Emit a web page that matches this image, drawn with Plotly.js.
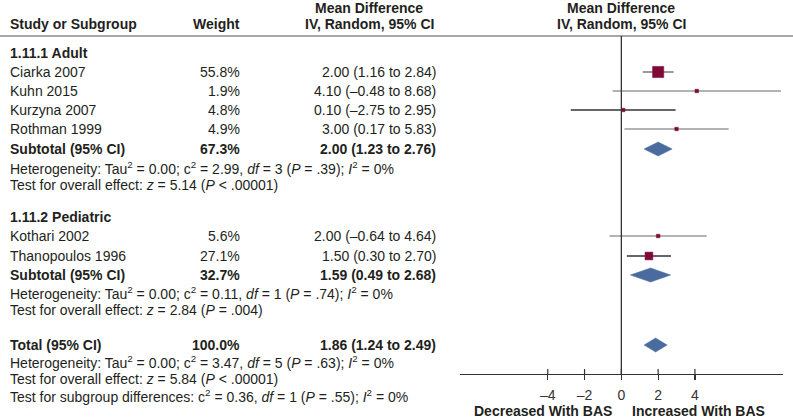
<!DOCTYPE html>
<html>
<head>
<meta charset="utf-8">
<script src="https://cdn.plot.ly/plotly-3.0.1.min.js"></script>
<style>html,body{margin:0;padding:0;background:#fff;}#chart{width:793px;height:418px;}</style>
</head>
<body>
<div id="chart"></div>
<script>
// ---------- DATA ----------
const groups = ['1.11.1 Adult', '1.11.2 Pediatric'];
const studies = ['Ciarka 2007', 'Kuhn 2015', 'Kurzyna 2007', 'Rothman 1999', 'Kothari 2002', 'Thanopoulos 1996'];
const studyGroup = [0, 0, 0, 0, 1, 1];
const weights = [55.8, 1.9, 4.8, 4.9, 5.6, 27.1];
const md = [2.00, 4.10, 0.10, 3.00, 2.00, 1.50];
const lo = [1.16, -0.48, -2.75, 0.17, -0.64, 0.30];
const hi = [2.84, 8.68, 2.95, 5.83, 4.64, 2.70];

const subWeights = [67.3, 32.7];
const subMd = [2.00, 1.59];
const subLo = [1.23, 0.49];
const subHi = [2.76, 2.68];

const totalWeight = [100.0];
const totalMd = [1.86];
const totalLo = [1.24];
const totalHi = [2.49];

// heterogeneity: [group1, group2, total]
const hetTau2 = ['0.00', '0.00', '0.00'];
const hetChi2 = ['2.99', '0.11', '3.47'];
const hetDf = [3, 1, 5];
const hetP = ['= .39', '= .74', '= .63'];
const hetI2 = ['0%', '0%', '0%'];
const effZ = ['5.14', '2.84', '5.84'];
const effP = ['< .00001', '= .004', '< .00001'];
const subDiffChi2 = ['0.36'];
const subDiffDf = [1];
const subDiffP = ['= .55'];
const subDiffI2 = ['0%'];

const tickVals = [-4, -2, 0, 2, 4];
const tickLabels = ['\u20134', '\u20132', '0', '2', '4'];
const dirLabels = ['Decreased With BAS', 'Increased With BAS'];

// ---------- LAYOUT / STYLE ----------
const W = 793, H = 418, AXIS_Y = 374;
const X_LEFT = 460, X_RIGHT = 782.7;
const XRANGE = [-8.77, 8.77];
const Y = {
  head1: 8, head2: 24, rule: 36,
  group: [53, 217],
  study: [72, 91, 110, 129, 236, 256],
  sub: [149, 275],
  het: [168, 293], test: [185, 310],
  total: 345, totHet: 362, totTest: 379, subDiff: 396, dir: 411
};
const COL = { name: 10, weight: 240, ci: 436, mid: 369 };
const ciColors = ['#7a7a7a', '#9a9a9a', '#333333', '#9a9a9a', '#9a9a9a', '#333333'];
const TXT = '#231f20', SQ = '#7f0a38', DIA = '#4a6b9d';
const FONT = 'Liberation Sans, Arial, Helvetica, sans-serif';
const FS = 14;

const px = p => p / W;
const py = p => (AXIS_Y - p) / AXIS_Y;
const fmt = v => (v < 0 ? '\u2013' + Math.abs(v).toFixed(2) : v.toFixed(2));
const ciText = (m, l, h) => fmt(m) + ' (' + fmt(l) + ' to ' + fmt(h) + ')';

const ann = [];
function txt(text, x, y, anchor, bold, xref) {
  ann.push({
    text: bold ? '<b>' + text + '</b>' : text,
    xref: xref || 'paper', yref: 'paper', x: xref ? x : px(x), y: py(y),
    xanchor: anchor, yanchor: 'middle', showarrow: false,
    borderpad: 0, borderwidth: 0,
    font: { family: FONT, size: FS, color: TXT }
  });
}

// headers
txt('Study or Subgroup', COL.name, Y.head2, 'left', true);
txt('Weight', COL.weight, Y.head2, 'right', true);
txt('Mean Difference', COL.mid, Y.head1, 'center', true);
txt('IV, Random, 95% CI', COL.mid, Y.head2, 'center', true);
txt('Mean Difference', 0, Y.head1, 'center', true, 'x');
txt('IV, Random, 95% CI', 0, Y.head2, 'center', true, 'x');

function hetLine(i) {
  return 'Heterogeneity: Tau<sup>2</sup> = ' + hetTau2[i] + '; c<sup>2</sup> = ' + hetChi2[i] +
    ', <i>df</i> = ' + hetDf[i] + ' (<i>P</i> ' + hetP[i] + '); <i>I</i><sup>2</sup> = ' + hetI2[i];
}
function testLine(i) {
  return 'Test for overall effect: <i>z</i> = ' + effZ[i] + ' (<i>P</i> ' + effP[i] + ')';
}

groups.forEach((g, gi) => {
  txt(g, COL.name, Y.group[gi], 'left', true);
  txt('Subtotal (95% CI)', COL.name, Y.sub[gi], 'left', true);
  txt(subWeights[gi].toFixed(1) + '%', COL.weight, Y.sub[gi], 'right', true);
  txt(ciText(subMd[gi], subLo[gi], subHi[gi]), COL.ci, Y.sub[gi], 'right', true);
  txt(hetLine(gi), COL.name, Y.het[gi], 'left', false);
  txt(testLine(gi), COL.name, Y.test[gi], 'left', false);
});
studies.forEach((s, i) => {
  txt(s, COL.name, Y.study[i], 'left', false);
  txt(weights[i].toFixed(1) + '%', COL.weight, Y.study[i], 'right', false);
  txt(ciText(md[i], lo[i], hi[i]), COL.ci, Y.study[i], 'right', false);
});
txt('Total (95% CI)', COL.name, Y.total, 'left', true);
txt(totalWeight[0].toFixed(1) + '%', COL.weight, Y.total, 'right', true);
txt(ciText(totalMd[0], totalLo[0], totalHi[0]), COL.ci, Y.total, 'right', true);
txt(hetLine(2), COL.name, Y.totHet, 'left', false);
txt(testLine(2), COL.name, Y.totTest, 'left', false);
txt('Test for subgroup differences: c<sup>2</sup> = ' + subDiffChi2[0] + ', <i>df</i> = ' + subDiffDf[0] +
  ' (<i>P</i> ' + subDiffP[0] + '); <i>I</i><sup>2</sup> = ' + subDiffI2[0], COL.name, Y.subDiff, 'left', false);
txt(dirLabels[0], 612, Y.dir, 'right', true);
txt(dirLabels[1], 632, Y.dir, 'left', true);

// ---------- TRACES ----------
const traces = [];
studies.forEach((s, i) => {
  traces.push({
    type: 'scatter', mode: 'lines', x: [lo[i], hi[i]], y: [Y.study[i], Y.study[i]],
    line: { color: ciColors[i], width: 1.5 }, hoverinfo: 'skip', showlegend: false
  });
});
traces.push({
  type: 'scatter', mode: 'markers', x: md, y: Y.study,
  marker: { symbol: 'square', color: SQ, opacity: 1, size: weights.map(w => Math.max(3.5, 1.5 * Math.sqrt(w))), line: { width: 0.5, color: SQ } },
  hoverinfo: 'skip', showlegend: false
});
function diamond(m, l, h, yc) {
  traces.push({
    type: 'scatter', mode: 'lines', x: [l, m, h, m, l], y: [yc, yc - 7, yc, yc + 7, yc],
    fill: 'toself', fillcolor: DIA, line: { color: DIA, width: 0.5 }, hoverinfo: 'skip', showlegend: false
  });
}
groups.forEach((g, gi) => diamond(subMd[gi], subLo[gi], subHi[gi], Y.sub[gi]));
diamond(totalMd[0], totalLo[0], totalHi[0], Y.total);

// tick marks crossing the axis (upper halves), positioned from tickVals
const tickShapes = tickVals.map(v => ({
  type: 'line', xref: 'x', yref: 'paper', x0: v, x1: v, y0: 0, y1: 5 / AXIS_Y,
  line: { color: '#333', width: 1.2 }
}));

const layout = {
  width: W, height: H,
  margin: { l: 0, r: 0, t: 0, b: H - AXIS_Y, pad: 0 },
  paper_bgcolor: '#fff', plot_bgcolor: 'rgba(0,0,0,0)',
  showlegend: false, hovermode: false,
  font: { family: FONT, size: FS, color: TXT },
  xaxis: {
    domain: [X_LEFT / W, X_RIGHT / W], range: XRANGE, anchor: 'y',
    showline: true, linecolor: '#333', linewidth: 1.3,
    ticks: 'outside', ticklen: 5, tickwidth: 1.2, tickcolor: '#333',
    tickvals: tickVals, ticktext: tickLabels, ticklabelstandoff: 3,
    tickfont: { family: FONT, size: FS, color: '#333' },
    showgrid: false, zeroline: false, fixedrange: true
  },
  yaxis: { domain: [0, 1], range: [AXIS_Y, 0], visible: false, fixedrange: true },
  shapes: [
    { type: 'line', xref: 'paper', yref: 'paper', x0: 0, x1: 1, y0: py(Y.rule), y1: py(Y.rule), line: { color: '#8a8a8a', width: 1.5 } },
    { type: 'line', xref: 'x', yref: 'paper', x0: 0, x1: 0, y0: py(Y.rule), y1: 0, line: { color: '#333', width: 1.3 } }
  ].concat(tickShapes),
  annotations: ann
};
Plotly.newPlot('chart', traces, layout, { displayModeBar: false, staticPlot: true });
</script>
</body>
</html>
